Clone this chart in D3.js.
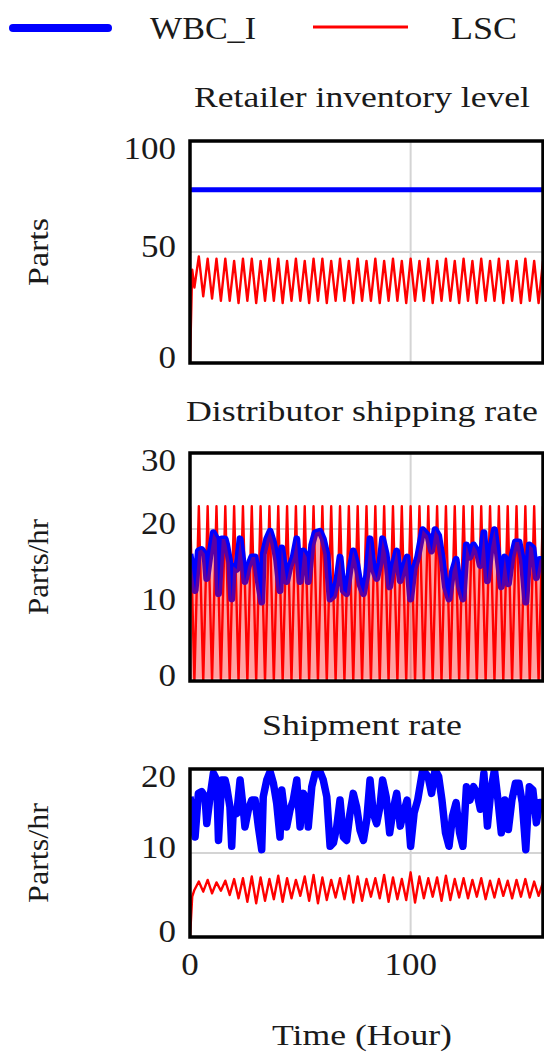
<!DOCTYPE html>
<html>
<head>
<meta charset="utf-8">
<script src="https://cdn.jsdelivr.net/npm/d3@7"></script>
<style>
  body { margin: 0; background: #fff; }
  svg { display: block; }
  text { font-family: "Liberation Serif", "Times New Roman", serif; fill: #1a1a1a; }
</style>
</head>
<body>
<svg id="chart" width="544" height="1055"></svg>
<script>
// ---- data ----
var seriesNames = ["WBC_I", "LSC"];
var xTicks = [0, 100];

// retailer inventory level
var wbcInvT = [0, 160];
var wbcInvV = [78, 78];
var lscInvT = [0, 1, 2].concat(d3.range(4, 161, 2));
var lscInvV = [0, 42, 34,
  48, 30, 47, 29, 47, 28, 47, 28, 46, 27, 47, 28, 47, 27, 46, 28, 47,
  28, 47, 27, 46, 28, 47, 28, 46, 27, 47, 28, 47, 27, 46, 28, 47, 28,
  46, 27, 47, 28, 46, 28, 47, 27, 46, 28, 47, 28, 46, 27, 47, 28, 46,
  28, 47, 27, 46, 28, 47, 28, 46, 27, 47, 28, 46, 27, 47, 28, 46, 28,
  47, 27, 46, 28, 46, 27, 47, 28, 46, 27, 46];

// WBC_I rate (distributor shipping rate and shipment rate share it)
var wbcRateT = [0, 2.3, 3.8, 5.3, 6.8, 7.6, 9.1, 10.6, 12.1,
  12.9, 14.4, 15.9, 16.6, 18.1, 18.9, 19.6, 21.2, 22.7, 24.2,
  24.9, 26.4, 28, 29.5, 31, 32.5, 33.2, 34.8, 36.3, 37.8,
  39.3, 40.8, 41.6, 43.1, 43.8, 45.3, 46.8, 48.4, 49.1, 49.9,
  51.4, 52.9, 53.6, 55.2, 56.7, 58.9, 60.4, 62, 63.5, 65,
  66.5, 68, 69.5, 71, 72.5, 74, 75.5, 77.1, 78.6, 80.1,
  81.6, 83.1, 84.6, 86.1,
  87.3, 88.9, 90.5, 92.1, 93.7, 95.3, 96.8, 98.4, 100, 101.6,
  103.2, 105.5, 107.9, 109.5, 111.1, 112.7, 114.2, 115.8, 117.4, 119,
  120.6, 122.2, 123.7, 125.3, 126.9, 128.5, 130.1, 131.6, 133.2, 134.8,
  136.4, 138, 139.6, 141.1, 142.7, 144.3, 145.9, 147.5, 149.1, 150.6,
  152.2, 153.8, 155.4, 157, 158.5, 160];
var wbcRateV = [16.7, 11.9, 17.1, 17.3, 16.7, 13.5, 16.7, 19.5, 18.7,
  11.5, 18.7, 18.7, 17.9, 15.5, 10.8, 15.1, 14.7, 18.7, 15.1,
  13.1, 15.1, 16.3, 16.3, 13.1, 10.4, 16.7, 18.7, 19.7, 18.3,
  15.9, 11.9, 17.5, 14.3, 13.1, 15.1, 16.3, 18.7, 15.9, 13.1,
  17.1, 16.3, 13.1, 17.9, 19.5, 19.7, 18.7, 16.7, 10.8, 11.2,
  13.1, 16.3, 11.9, 11.5, 14.7, 17.1, 15.5, 12.7, 11.5, 13.9,
  18.7, 14.7, 13.5, 15.5,
  18.7, 16.7, 12.4, 15.2, 17.1, 13.2, 14.8, 16.3, 10.8, 14.8,
  16.3, 19.9, 19.1, 17.1, 19.9, 19.1, 16.3, 12.4, 10.8, 14.4,
  16, 12.4, 10.8, 17.9, 16.3, 17.9, 17.1, 15.2, 19.5, 13.2,
  17.5, 19.9, 16.3, 12.4, 16.3, 12.8, 16.3, 18.3, 18.3, 16,
  10.4, 17.9, 17.5, 13.6, 16, 16];

// LSC distributor shipping rate
var lscShipT = d3.range(0, 161, 2);
var lscShipV = [23, 0, 23, 0, 23, 0, 23, 0, 23, 0, 23, 0, 23, 0, 23, 0, 23, 0, 23, 0,
  23, 0, 23, 0, 23, 0, 23, 0, 23, 0, 23, 0, 23, 0, 23, 0, 23, 0, 23, 0,
  23, 0, 23, 0, 23, 0, 23, 0, 23, 0, 23, 0, 23, 0, 23, 0, 23, 0, 23, 0,
  23, 0, 23, 0, 23, 0, 23, 0, 23, 0, 23, 0, 23, 0, 23, 0, 23, 0, 23, 0, 23];

// LSC shipment rate
var lscRateT = [0, 1, 2].concat(d3.range(4, 161, 2));
var lscRateV = [0, 4.8, 5.6,
  6.6, 5.4, 6.8, 5.2, 6.5, 5.5, 6.7, 5.0, 6.9, 4.6, 7.0, 4.2, 7.2, 4.0, 7.1, 4.3,
  6.9, 4.5, 7.3, 4.2, 7.0, 4.6, 6.8, 4.9, 7.2, 4.3, 7.4, 4.0, 7.1, 4.4, 6.8, 4.7,
  7.0, 4.5, 7.3, 4.1, 7.2, 4.3, 6.9, 4.8, 7.0, 4.6, 7.4, 4.2, 7.1, 4.5, 6.9, 4.4,
  7.7, 4.1, 7.2, 4.6, 7.0, 4.8, 7.1, 4.3, 7.3, 4.4, 6.9, 4.7, 7.0, 4.6, 6.8, 4.8,
  7.0, 4.5, 6.7, 4.7, 6.9, 4.9, 6.7, 4.6, 6.8, 4.8, 6.9, 4.7, 6.6, 4.9, 6.5];

function zip(t, v) { return t.map((d, i) => ({ t: d, v: v[i] })); }

const blue = "#0000ff", red = "#ff0000";

const svg = d3.select("#chart");

// x scale shared by the 3 panels
const x = d3.scaleLinear().domain([0, 160]).range([190, 543]);

// panels
const panels = [
  { title: "Retailer inventory level", titleY: 107, titleLen: 336, top: 141, bottom: 363,
    yMax: 100, ticks: [0, 50, 100], ylabel: "Parts", ylabelLen: 68,
    lines: [ { data: zip(lscInvT, lscInvV), color: red, w: 2.4 },
             { data: zip(wbcInvT, wbcInvV), color: blue, w: 5 } ] },
  { title: "Distributor shipping rate", titleY: 421, titleLen: 352, top: 453, bottom: 681,
    yMax: 30, ticks: [0, 10, 20, 30], ylabel: "Parts/hr", ylabelLen: 96,
    lines: [ { data: zip(lscShipT, lscShipV), color: red, w: 2.4 },
             { data: zip(wbcRateT, wbcRateV), color: blue, w: 7 } ],
    shade: zip(wbcRateT, wbcRateV) },
  { title: "Shipment rate", titleY: 735, titleLen: 200, top: 769, bottom: 937,
    yMax: 20, ticks: [0, 10, 20], ylabel: "Parts/hr", ylabelLen: 100,
    lines: [ { data: zip(lscRateT, lscRateV), color: red, w: 2.4 },
             { data: zip(wbcRateT, wbcRateV), color: blue, w: 7.5 } ] }
];

panels.forEach(function (p, i) {
  const y = d3.scaleLinear().domain([0, p.yMax]).range([p.bottom, p.top]);
  const g = svg.append("g");

  // clip to plot area
  g.append("clipPath").attr("id", "clip" + i)
    .append("rect").attr("x", x(0)).attr("y", p.top)
    .attr("width", x(160) - x(0)).attr("height", p.bottom - p.top);

  // grid lines
  g.selectAll(".hgrid").data(p.ticks.slice(1, -1)).join("line")
    .attr("x1", x(0)).attr("x2", x(160))
    .attr("y1", d => y(d)).attr("y2", d => y(d))
    .attr("stroke", "#d4d4d4").attr("stroke-width", 2);
  g.selectAll(".vgrid").data(xTicks.slice(1)).join("line")
    .attr("x1", d => x(d)).attr("x2", d => x(d))
    .attr("y1", p.top).attr("y2", p.bottom)
    .attr("stroke", "#d4d4d4").attr("stroke-width", 2);

  const plot = g.append("g").attr("clip-path", `url(#clip${i})`);
  const line = d3.line().x(d => x(d.t)).y(d => y(d.v));
  p.lines.forEach(function (s) {
    plot.append("path").datum(s.data)
      .attr("d", line)
      .attr("fill", "none")
      .attr("stroke", s.color)
      .attr("stroke-width", s.w)
      .attr("stroke-linejoin", "round");
  });
  // dense LSC shading under WBC_I in the distributor panel
  if (p.shade) {
    plot.append("path").datum(p.shade)
      .attr("d", d3.area().x(d => x(d.t)).y0(y(0.3)).y1(d => y(d.v)))
      .attr("fill", red).attr("fill-opacity", 0.36);
  }

  // frame
  g.append("rect").attr("x", x(0)).attr("y", p.top)
    .attr("width", x(160) - x(0)).attr("height", p.bottom - p.top)
    .attr("fill", "none").attr("stroke", "#000").attr("stroke-width", 3.5);

  // y tick labels
  g.selectAll(".ytick").data(p.ticks).join("text")
    .attr("x", 176)
    .attr("y", d => y(d) + (d === p.yMax ? 7 : -6))
    .attr("text-anchor", "end")
    .attr("dominant-baseline", "central")
    .attr("textLength", d => String(d).length * 17.5)
    .attr("lengthAdjust", "spacingAndGlyphs")
    .style("font-size", "31px")
    .text(d => d);

  // title
  g.append("text")
    .attr("x", 362).attr("y", p.titleY)
    .attr("text-anchor", "middle")
    .attr("textLength", p.titleLen).attr("lengthAdjust", "spacingAndGlyphs")
    .style("font-size", "29px")
    .text(p.title);

  // y axis label
  g.append("text")
    .attr("transform", `translate(48,${(p.top + p.bottom) / 2}) rotate(-90)`)
    .attr("text-anchor", "middle")
    .attr("textLength", p.ylabelLen).attr("lengthAdjust", "spacingAndGlyphs")
    .style("font-size", "30px")
    .text(p.ylabel);
});

// x tick labels under the last panel
svg.selectAll(".xtick").data(xTicks).join("text")
  .attr("x", d => x(d)).attr("y", 975)
  .attr("text-anchor", "middle")
  .attr("textLength", d => String(d).length * 17.5)
  .attr("lengthAdjust", "spacingAndGlyphs")
  .style("font-size", "31px")
  .text(d => d);

svg.append("text")
  .attr("x", 362).attr("y", 1045)
  .attr("text-anchor", "middle")
  .attr("textLength", 180).attr("lengthAdjust", "spacingAndGlyphs")
  .style("font-size", "29px")
  .text("Time (Hour)");

// legend
const legend = svg.append("g");
legend.append("line").attr("x1", 13).attr("x2", 108).attr("y1", 28).attr("y2", 28)
  .attr("stroke", blue).attr("stroke-width", 8).attr("stroke-linecap", "round");
legend.append("text").attr("x", 150).attr("y", 39)
  .attr("textLength", 106).attr("lengthAdjust", "spacingAndGlyphs")
  .style("font-size", "31px").text(seriesNames[0]);
legend.append("line").attr("x1", 313).attr("x2", 408).attr("y1", 27).attr("y2", 27)
  .attr("stroke", red).attr("stroke-width", 3);
legend.append("text").attr("x", 451).attr("y", 39)
  .attr("textLength", 66).attr("lengthAdjust", "spacingAndGlyphs")
  .style("font-size", "31px").text(seriesNames[1]);
</script>
</body>
</html>
